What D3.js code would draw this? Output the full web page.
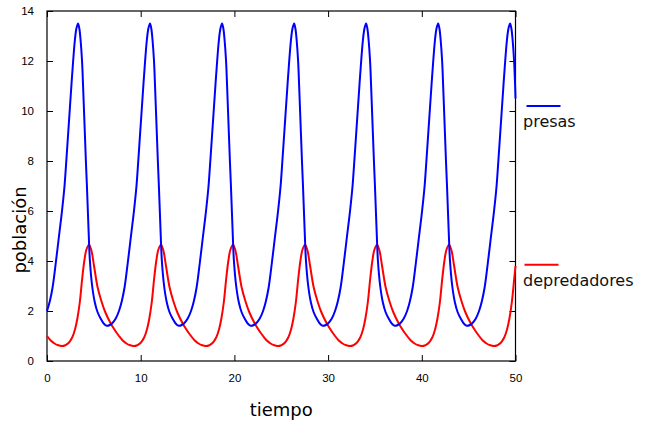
<!DOCTYPE html>
<html>
<head>
<meta charset="utf-8">
<script src="https://cdn.jsdelivr.net/npm/d3@7"></script>
<style>
  body { margin: 0; background: #fff; }
  .tick text { font-family: "Liberation Sans", Arial, sans-serif; font-size: 11.5px; fill: #000; }
</style>
</head>
<body>
<div class="chart"></div>
<script>
// presas (prey), one line per cycle
const preyTime = [
  0, 0.3, 0.6, 0.93, 1.28, 1.6, 1.87, 2.06, 2.24, 2.42, 2.6, 2.79, 2.98, 3.14, 3.31, 3.45, 3.58, 3.74, 3.85, 3.95, 4.05, 4.15, 4.26, 4.36, 4.46, 4.58, 4.82, 5.1, 5.4, 5.75, 6.05, 6.37, 6.7, 7.03, 7.35,
  7.68, 7.98, 8.28, 8.61, 8.96, 9.28, 9.55, 9.74, 9.92, 10.10, 10.28, 10.47, 10.66, 10.82, 10.99, 11.13, 11.26, 11.42, 11.53, 11.63, 11.73, 11.83, 11.94, 12.04, 12.14, 12.26, 12.50, 12.78, 13.08, 13.43, 13.73, 14.05, 14.38, 14.71, 15.03,
  15.37, 15.67, 15.97, 16.30, 16.65, 16.97, 17.24, 17.43, 17.61, 17.79, 17.97, 18.16, 18.35, 18.51, 18.68, 18.82, 18.95, 19.11, 19.22, 19.32, 19.42, 19.52, 19.63, 19.73, 19.83, 19.95, 20.19, 20.47, 20.77, 21.12, 21.42, 21.74, 22.07, 22.40, 22.72,
  23.06, 23.36, 23.66, 23.99, 24.34, 24.66, 24.93, 25.12, 25.30, 25.48, 25.66, 25.85, 26.04, 26.20, 26.37, 26.51, 26.64, 26.80, 26.91, 27.01, 27.11, 27.21, 27.32, 27.42, 27.52, 27.64, 27.88, 28.16, 28.46, 28.81, 29.11, 29.43, 29.76, 30.09, 30.41,
  30.74, 31.04, 31.34, 31.67, 32.02, 32.34, 32.61, 32.80, 32.98, 33.16, 33.34, 33.53, 33.72, 33.88, 34.05, 34.19, 34.32, 34.48, 34.59, 34.69, 34.79, 34.89, 35.00, 35.10, 35.20, 35.32, 35.56, 35.84, 36.14, 36.49, 36.79, 37.11, 37.44, 37.77, 38.09,
  38.43, 38.73, 39.03, 39.36, 39.71, 40.03, 40.30, 40.49, 40.67, 40.85, 41.03, 41.22, 41.41, 41.57, 41.74, 41.88, 42.01, 42.17, 42.28, 42.38, 42.48, 42.58, 42.69, 42.79, 42.89, 43.01, 43.25, 43.53, 43.83, 44.18, 44.48, 44.80, 45.13, 45.46, 45.78,
  46.11, 46.41, 46.71, 47.04, 47.39, 47.71, 47.98, 48.17, 48.35, 48.53, 48.71, 48.90, 49.09, 49.25, 49.42, 49.56, 49.69, 49.85, 49.96, 50
];
const preyValue = [
  2, 2.39, 2.95, 3.9, 5, 6, 7, 8, 9, 10, 11, 12, 12.85, 13.3, 13.5, 13.3, 12.85, 12, 11, 10, 9, 8, 7, 6, 5, 4, 3, 2.35, 1.95, 1.68, 1.5, 1.41, 1.44, 1.54, 1.71,
  2, 2.39, 2.95, 3.9, 5, 6, 7, 8, 9, 10, 11, 12, 12.85, 13.3, 13.5, 13.3, 12.85, 12, 11, 10, 9, 8, 7, 6, 5, 4, 3, 2.35, 1.95, 1.68, 1.5, 1.41, 1.44, 1.54, 1.71,
  2, 2.39, 2.95, 3.9, 5, 6, 7, 8, 9, 10, 11, 12, 12.85, 13.3, 13.5, 13.3, 12.85, 12, 11, 10, 9, 8, 7, 6, 5, 4, 3, 2.35, 1.95, 1.68, 1.5, 1.41, 1.44, 1.54, 1.71,
  2, 2.39, 2.95, 3.9, 5, 6, 7, 8, 9, 10, 11, 12, 12.85, 13.3, 13.5, 13.3, 12.85, 12, 11, 10, 9, 8, 7, 6, 5, 4, 3, 2.35, 1.95, 1.68, 1.5, 1.41, 1.44, 1.54, 1.71,
  2, 2.39, 2.95, 3.9, 5, 6, 7, 8, 9, 10, 11, 12, 12.85, 13.3, 13.5, 13.3, 12.85, 12, 11, 10, 9, 8, 7, 6, 5, 4, 3, 2.35, 1.95, 1.68, 1.5, 1.41, 1.44, 1.54, 1.71,
  2, 2.39, 2.95, 3.9, 5, 6, 7, 8, 9, 10, 11, 12, 12.85, 13.3, 13.5, 13.3, 12.85, 12, 11, 10, 9, 8, 7, 6, 5, 4, 3, 2.35, 1.95, 1.68, 1.5, 1.41, 1.44, 1.54, 1.71,
  2, 2.39, 2.95, 3.9, 5, 6, 7, 8, 9, 10, 11, 12, 12.85, 13.3, 13.5, 13.3, 12.85, 12, 11, 10.5
];

// depredadores (predators)
const predTime = [
  0, 0.4, 0.8, 1.2, 1.55, 1.9, 2.3, 2.7, 3.0, 3.24, 3.5, 3.77, 4.0, 4.2, 4.48, 4.72, 5.0, 5.4, 5.8, 6.2, 6.8, 7.3,
  7.68, 8.08, 8.48, 8.88, 9.23, 9.58, 9.98, 10.38, 10.68, 10.92, 11.18, 11.45, 11.68, 11.88, 12.16, 12.40, 12.68, 13.08, 13.48, 13.88, 14.48, 14.98,
  15.37, 15.77, 16.17, 16.57, 16.92, 17.27, 17.67, 18.07, 18.37, 18.61, 18.87, 19.14, 19.37, 19.57, 19.85, 20.09, 20.37, 20.77, 21.17, 21.57, 22.17, 22.67,
  23.06, 23.46, 23.86, 24.26, 24.61, 24.96, 25.36, 25.76, 26.06, 26.30, 26.56, 26.83, 27.06, 27.26, 27.54, 27.78, 28.06, 28.46, 28.86, 29.26, 29.86, 30.36,
  30.74, 31.14, 31.54, 31.94, 32.29, 32.64, 33.04, 33.44, 33.74, 33.98, 34.24, 34.51, 34.74, 34.94, 35.22, 35.46, 35.74, 36.14, 36.54, 36.94, 37.54, 38.04,
  38.43, 38.83, 39.23, 39.63, 39.98, 40.33, 40.73, 41.13, 41.43, 41.67, 41.93, 42.20, 42.43, 42.63, 42.91, 43.15, 43.43, 43.83, 44.23, 44.63, 45.23, 45.73,
  46.11, 46.51, 46.91, 47.31, 47.66, 48.01, 48.41, 48.81, 49.11, 49.35, 49.61, 49.88, 50
];
const predValue = [
  1, 0.82, 0.7, 0.63, 0.6, 0.62, 0.72, 0.95, 1.28, 1.7, 2.35, 3.35, 4.05, 4.45, 4.65, 4.45, 3.85, 2.95, 2.4, 1.97, 1.5, 1.2,
  1, 0.82, 0.7, 0.63, 0.6, 0.62, 0.72, 0.95, 1.28, 1.7, 2.35, 3.35, 4.05, 4.45, 4.65, 4.45, 3.85, 2.95, 2.4, 1.97, 1.5, 1.2,
  1, 0.82, 0.7, 0.63, 0.6, 0.62, 0.72, 0.95, 1.28, 1.7, 2.35, 3.35, 4.05, 4.45, 4.65, 4.45, 3.85, 2.95, 2.4, 1.97, 1.5, 1.2,
  1, 0.82, 0.7, 0.63, 0.6, 0.62, 0.72, 0.95, 1.28, 1.7, 2.35, 3.35, 4.05, 4.45, 4.65, 4.45, 3.85, 2.95, 2.4, 1.97, 1.5, 1.2,
  1, 0.82, 0.7, 0.63, 0.6, 0.62, 0.72, 0.95, 1.28, 1.7, 2.35, 3.35, 4.05, 4.45, 4.65, 4.45, 3.85, 2.95, 2.4, 1.97, 1.5, 1.2,
  1, 0.82, 0.7, 0.63, 0.6, 0.62, 0.72, 0.95, 1.28, 1.7, 2.35, 3.35, 4.05, 4.45, 4.65, 4.45, 3.85, 2.95, 2.4, 1.97, 1.5, 1.2,
  1, 0.82, 0.7, 0.63, 0.6, 0.62, 0.72, 0.95, 1.28, 1.7, 2.35, 3.35, 3.8
];

const seriesNames = ['presas', 'depredadores'];
const seriesColors = ['#0000ff', '#ff0000'];
const xTicks = [0, 10, 20, 30, 40, 50];
const yTicks = [0, 2, 4, 6, 8, 10, 12, 14];

const margin = ({top: 11, right: 134.5, bottom: 71, left: 47});
const width = 650 - margin.left - margin.right;
const height = 432 - margin.top - margin.bottom;

const xScale = d3.scaleLinear().domain([0, 50]).range([0, width]);
const yScale = d3.scaleLinear().domain([0, 14]).range([height, 0]);

const svg = d3.select('.chart')
  .append('svg')
  .attr('width', 650)
  .attr('height', 432)
  .append('g')
  .attr('transform', `translate(${margin.left},${margin.top})`);

// axes with inward ticks, mirrored on top and right
svg.append('g')
  .attr('transform', `translate(0,${height})`)
  .call(d3.axisBottom(xScale).tickValues(xTicks).tickSize(-6).tickPadding(13))
  .call(g => g.select('.domain').remove());
svg.append('g')
  .call(d3.axisTop(xScale).tickValues(xTicks).tickSize(-6).tickFormat(''))
  .call(g => g.select('.domain').remove());
svg.append('g')
  .call(d3.axisLeft(yScale).tickValues(yTicks).tickSize(-6).tickPadding(13))
  .call(g => g.select('.domain').remove());
svg.append('g')
  .attr('transform', `translate(${width},0)`)
  .call(d3.axisRight(yScale).tickValues(yTicks).tickSize(-6).tickFormat(''))
  .call(g => g.select('.domain').remove());

svg.append('rect')
  .attr('width', width)
  .attr('height', height)
  .attr('fill', 'none')
  .attr('stroke', '#000')
  .attr('stroke-width', 1.2);

const line = d3.line()
  .x(d => xScale(d[0]))
  .y(d => yScale(d[1]))
  .curve(d3.curveCatmullRom.alpha(0.5));

const series = [
  d3.zip(preyTime, preyValue),
  d3.zip(predTime, predValue)
];

// red first so blue sits on top where they cross
[1, 0].forEach(i => {
  svg.append('path')
    .datum(series[i])
    .attr('d', line)
    .attr('fill', 'none')
    .attr('stroke', seriesColors[i])
    .attr('stroke-width', 2);
});

// legend
const legendY = [yScale(10.2), yScale(3.85)];
seriesNames.forEach((name, i) => {
  svg.append('line')
    .attr('x1', width + 9 + (i === 0 ? 2 : 0))
    .attr('x2', width + 43 + (i === 0 ? 2 : 0))
    .attr('y1', legendY[i])
    .attr('y2', legendY[i])
    .attr('stroke', seriesColors[i])
    .attr('stroke-width', 2);
  svg.append('text')
    .attr('x', width + 7.5)
    .attr('y', legendY[i] + 21)
    .attr('font-family', 'DejaVu Sans')
    .attr('font-size', 16)
    .attr('fill', '#111')
    .text(name);
});

svg.append('text')
  .attr('x', xScale(25))
  .attr('y', 405)
  .attr('text-anchor', 'middle')
  .attr('font-family', 'DejaVu Sans')
  .attr('font-size', 18)
  .text('tiempo');

svg.append('text')
  .attr('transform', `translate(${26 - margin.left},${230 - margin.top}) rotate(-90)`)
  .attr('text-anchor', 'middle')
  .attr('font-family', 'DejaVu Sans')
  .attr('font-size', 18)
  .text('población');
</script>
</body>
</html>
